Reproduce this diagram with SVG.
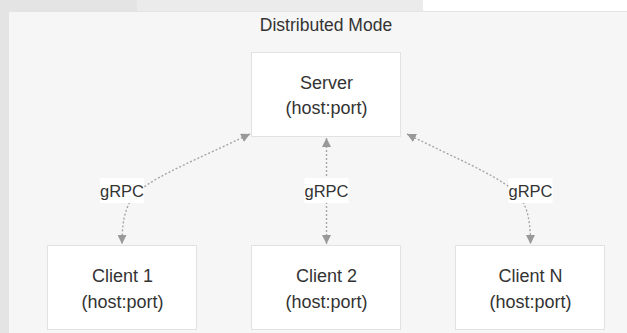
<svg xmlns="http://www.w3.org/2000/svg" width="627" height="333" viewBox="0 0 627 333">
  <style>
    .txt { font-family: "Liberation Sans", Arial, Helvetica, sans-serif; fill: #333; text-anchor: middle; }
    .node rect { fill: #ffffff; stroke: #e2e2e2; stroke-width: 1; }
    .node text { font-size: 18px; }
    .lbl rect { fill: #ffffff; }
    .lbl text { font-size: 16.5px; }
    .edge { fill: none; stroke: #a6a6a6; stroke-width: 1.4; stroke-dasharray: 2 2; }
  </style>
  <defs>
    <marker id="arrow" viewBox="0 0 10 10" refX="10" refY="5" markerWidth="9" markerHeight="9" markerUnits="userSpaceOnUse" orient="auto-start-reverse">
      <path d="M0,0 L10,5 L0,10 Z" fill="#999999"/>
    </marker>
  </defs>

  <!-- page background -->
  <rect x="0" y="0" width="627" height="333" fill="#e4e4e4"/>
  <rect x="137" y="0" width="286" height="12" fill="#ebebeb"/>
  <rect x="423" y="0" width="204" height="12" fill="#ffffff"/>

  <!-- cluster -->
  <g id="cluster-distributed">
    <rect x="8.5" y="11.5" width="640" height="340" fill="#f6f6f6" stroke="#e4e4e4" stroke-width="1"/>
    <text class="txt" x="326" y="31" font-size="17.5" fill="#444">Distributed Mode</text>
  </g>

  <!-- connectors -->
  <g id="edges">
    <path class="edge" d="M250,134 C200,158 160,174 140,190 C127,201 122,216 122,244" marker-start="url(#arrow)" marker-end="url(#arrow)"/>
    <path class="edge" d="M326.5,138 L326.5,244" marker-start="url(#arrow)" marker-end="url(#arrow)"/>
    <path class="edge" d="M407,134 C455,158 494,174 513,190 C526,201 530.5,216 530.5,244" marker-start="url(#arrow)" marker-end="url(#arrow)"/>
  </g>

  <!-- edge labels -->
  <g id="edge-labels">
    <g class="lbl"><rect x="100" y="178" width="44" height="25"/><text class="txt" x="122" y="197">gRPC</text></g>
    <g class="lbl"><rect x="304.5" y="178" width="44" height="25"/><text class="txt" x="326.5" y="197">gRPC</text></g>
    <g class="lbl"><rect x="508.5" y="178" width="44" height="25"/><text class="txt" x="530.5" y="197">gRPC</text></g>
  </g>

  <!-- nodes -->
  <g id="server" class="node">
    <rect x="251.5" y="52.5" width="149" height="84"/>
    <text class="txt" x="326.5" y="88.5">Server</text>
    <text class="txt" x="326.5" y="114">(host:port)</text>
  </g>
  <g id="client1" class="node">
    <rect x="47.5" y="245.5" width="149" height="84"/>
    <text class="txt" x="122.5" y="281.5">Client 1</text>
    <text class="txt" x="122.5" y="307.5">(host:port)</text>
  </g>
  <g id="client2" class="node">
    <rect x="251.5" y="245.5" width="149" height="84"/>
    <text class="txt" x="326.5" y="281.5">Client 2</text>
    <text class="txt" x="326.5" y="307.5">(host:port)</text>
  </g>
  <g id="clientN" class="node">
    <rect x="455.5" y="245.5" width="149" height="84"/>
    <text class="txt" x="530.5" y="281.5">Client N</text>
    <text class="txt" x="530.5" y="307.5">(host:port)</text>
  </g>
</svg>
